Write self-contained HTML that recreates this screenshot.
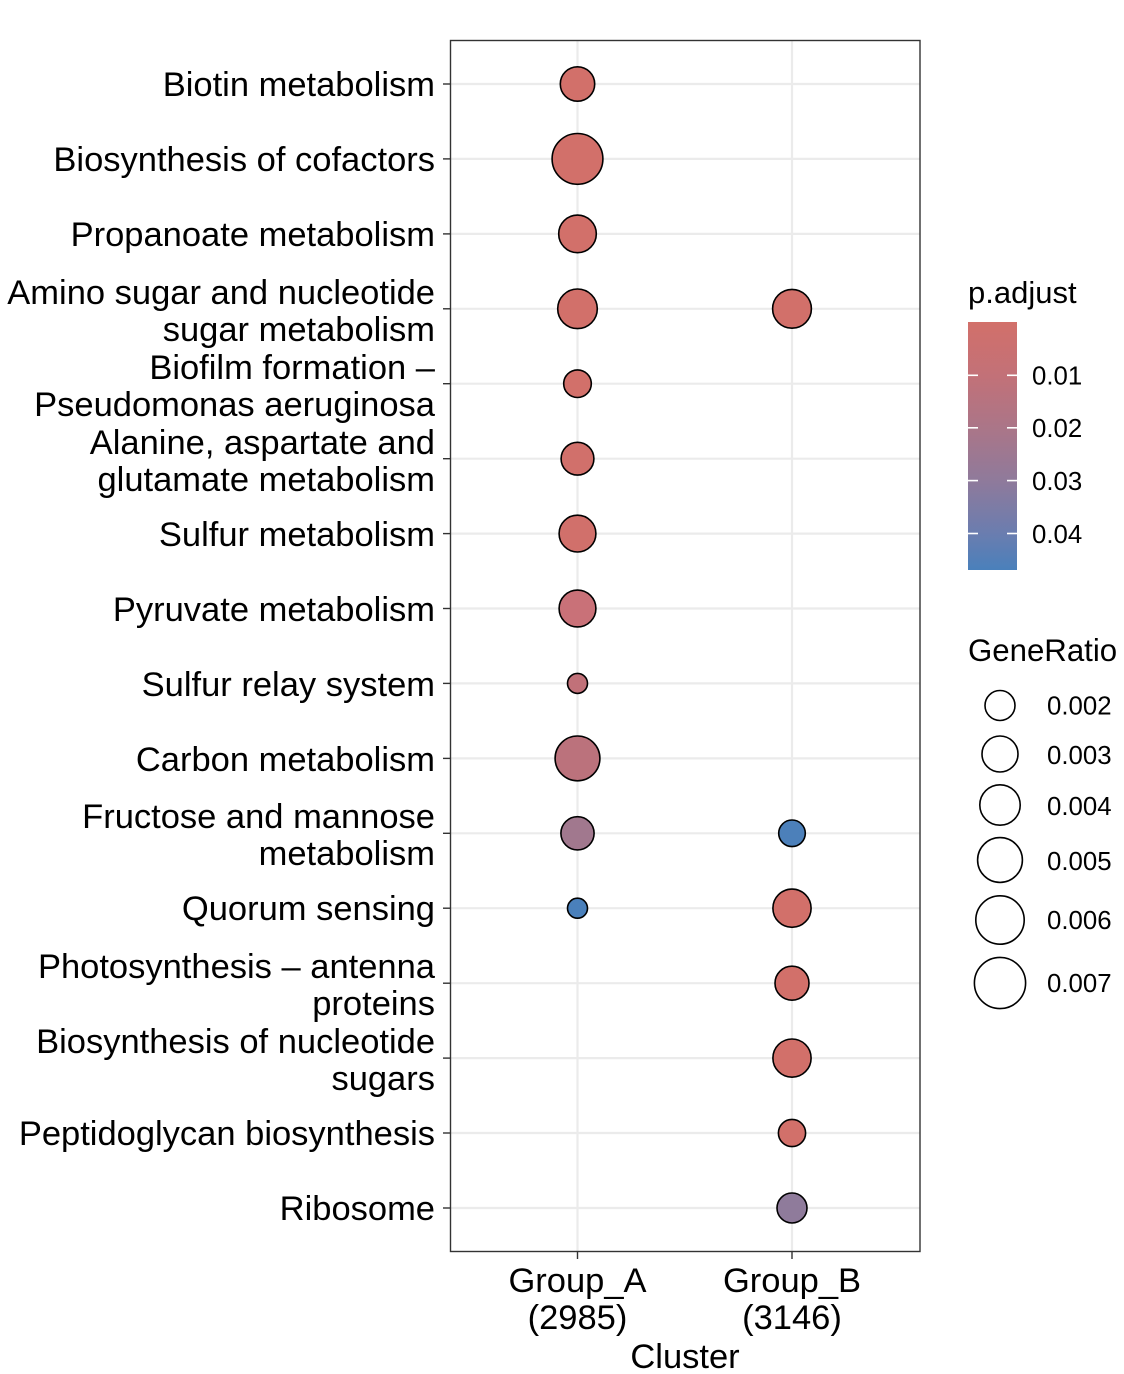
<!DOCTYPE html>
<html>
<head>
<meta charset="utf-8">
<style>
  html,body{margin:0;padding:0;background:#fff;}
  svg{display:block;}
  text{font-family:"Liberation Sans", Arial, Helvetica, sans-serif;fill:#000;}
</style>
</head>
<body>
<svg width="1124" height="1374" viewBox="0 0 1124 1374" xmlns="http://www.w3.org/2000/svg">
  <defs>
    <linearGradient id="cb" x1="0" y1="0" x2="0" y2="1">
      <stop offset="0" stop-color="#d2706a"/>
      <stop offset="0.22" stop-color="#c27178"/>
      <stop offset="0.45" stop-color="#a8768a"/>
      <stop offset="0.64" stop-color="#8f7a9b"/>
      <stop offset="0.85" stop-color="#6b7daf"/>
      <stop offset="1" stop-color="#4a80bb"/>
    </linearGradient>
  </defs>
  <rect x="0" y="0" width="1124" height="1374" fill="#fff"/>

  <!-- grid lines -->
  <g stroke="#ebebeb" stroke-width="2.2">
    <line x1="450" y1="84" x2="920" y2="84"/>
    <line x1="450" y1="158.9" x2="920" y2="158.9"/>
    <line x1="450" y1="233.9" x2="920" y2="233.9"/>
    <line x1="450" y1="308.8" x2="920" y2="308.8"/>
    <line x1="450" y1="383.7" x2="920" y2="383.7"/>
    <line x1="450" y1="458.7" x2="920" y2="458.7"/>
    <line x1="450" y1="533.6" x2="920" y2="533.6"/>
    <line x1="450" y1="608.5" x2="920" y2="608.5"/>
    <line x1="450" y1="683.4" x2="920" y2="683.4"/>
    <line x1="450" y1="758.4" x2="920" y2="758.4"/>
    <line x1="450" y1="833.3" x2="920" y2="833.3"/>
    <line x1="450" y1="908.2" x2="920" y2="908.2"/>
    <line x1="450" y1="983.2" x2="920" y2="983.2"/>
    <line x1="450" y1="1058.1" x2="920" y2="1058.1"/>
    <line x1="450" y1="1133" x2="920" y2="1133"/>
    <line x1="450" y1="1208" x2="920" y2="1208"/>
    <line x1="577.5" y1="40" x2="577.5" y2="1252"/>
    <line x1="792" y1="40" x2="792" y2="1252"/>
  </g>

  <!-- points -->
  <g stroke="#000" stroke-width="1.6">
    <circle cx="577.5" cy="84" r="17.2" fill="#d2706a"/>
    <circle cx="577.5" cy="158.9" r="25.4" fill="#d2706a"/>
    <circle cx="577.5" cy="233.9" r="18.8" fill="#d2706a"/>
    <circle cx="577.5" cy="308.8" r="19.8" fill="#d2706a"/>
    <circle cx="792" cy="308.8" r="19.4" fill="#d2706a"/>
    <circle cx="577.5" cy="383.7" r="13.8" fill="#d2706a"/>
    <circle cx="577.5" cy="458.7" r="16.4" fill="#d1706b"/>
    <circle cx="577.5" cy="533.6" r="18.4" fill="#d1706b"/>
    <circle cx="577.5" cy="608.5" r="18.4" fill="#c97178"/>
    <circle cx="577.5" cy="683.4" r="10" fill="#c17179"/>
    <circle cx="577.5" cy="758.4" r="22.4" fill="#bb727c"/>
    <circle cx="577.5" cy="833.3" r="16.6" fill="#a1788e"/>
    <circle cx="792" cy="833.3" r="13.3" fill="#4c80ba"/>
    <circle cx="577.5" cy="908.2" r="10" fill="#4a80bb"/>
    <circle cx="792" cy="908.2" r="19.1" fill="#d2706a"/>
    <circle cx="792" cy="983.2" r="17" fill="#d2706a"/>
    <circle cx="792" cy="1058.1" r="19.1" fill="#d2706a"/>
    <circle cx="792" cy="1133" r="13.6" fill="#d2706a"/>
    <circle cx="792" cy="1208" r="15" fill="#8f7b9b"/>
  </g>

  <!-- panel border -->
  <rect x="450.5" y="40.5" width="469.5" height="1211" fill="none" stroke="#333" stroke-width="1.4"/>

  <!-- ticks -->
  <g stroke="#333" stroke-width="1.4">
    <line x1="443" y1="84" x2="450" y2="84"/>
    <line x1="443" y1="158.9" x2="450" y2="158.9"/>
    <line x1="443" y1="233.9" x2="450" y2="233.9"/>
    <line x1="443" y1="308.8" x2="450" y2="308.8"/>
    <line x1="443" y1="383.7" x2="450" y2="383.7"/>
    <line x1="443" y1="458.7" x2="450" y2="458.7"/>
    <line x1="443" y1="533.6" x2="450" y2="533.6"/>
    <line x1="443" y1="608.5" x2="450" y2="608.5"/>
    <line x1="443" y1="683.4" x2="450" y2="683.4"/>
    <line x1="443" y1="758.4" x2="450" y2="758.4"/>
    <line x1="443" y1="833.3" x2="450" y2="833.3"/>
    <line x1="443" y1="908.2" x2="450" y2="908.2"/>
    <line x1="443" y1="983.2" x2="450" y2="983.2"/>
    <line x1="443" y1="1058.1" x2="450" y2="1058.1"/>
    <line x1="443" y1="1133" x2="450" y2="1133"/>
    <line x1="443" y1="1208" x2="450" y2="1208"/>
    <line x1="577.5" y1="1252" x2="577.5" y2="1259"/>
    <line x1="792" y1="1252" x2="792" y2="1259"/>
  </g>

  <!-- y labels -->
  <g font-size="34.5" text-anchor="end">
    <text x="435" y="96">Biotin metabolism</text>
    <text x="435" y="171">Biosynthesis of cofactors</text>
    <text x="435" y="246">Propanoate metabolism</text>
    <text x="435" y="304">Amino sugar and nucleotide</text>
    <text x="435" y="341">sugar metabolism</text>
    <text x="435" y="379">Biofilm formation –</text>
    <text x="435" y="416">Pseudomonas aeruginosa</text>
    <text x="435" y="454">Alanine, aspartate and</text>
    <text x="435" y="491">glutamate metabolism</text>
    <text x="435" y="546">Sulfur metabolism</text>
    <text x="435" y="621">Pyruvate metabolism</text>
    <text x="435" y="696">Sulfur relay system</text>
    <text x="435" y="771">Carbon metabolism</text>
    <text x="435" y="828">Fructose and mannose</text>
    <text x="435" y="865">metabolism</text>
    <text x="435" y="920">Quorum sensing</text>
    <text x="435" y="978">Photosynthesis – antenna</text>
    <text x="435" y="1015">proteins</text>
    <text x="435" y="1053">Biosynthesis of nucleotide</text>
    <text x="435" y="1090">sugars</text>
    <text x="435" y="1145">Peptidoglycan biosynthesis</text>
    <text x="435" y="1220">Ribosome</text>
  </g>

  <!-- x labels -->
  <g font-size="34.5" text-anchor="middle">
    <text x="577.5" y="1292">Group_A</text>
    <text x="577.5" y="1329">(2985)</text>
    <text x="792" y="1292">Group_B</text>
    <text x="792" y="1329">(3146)</text>
    <text x="685" y="1368">Cluster</text>
  </g>

  <!-- legend: p.adjust -->
  <text x="968" y="303" font-size="31">p.adjust</text>
  <rect x="968" y="322" width="49" height="248" fill="url(#cb)"/>
  <g stroke="#fff" stroke-width="1.6">
    <line x1="968" y1="375.3" x2="978" y2="375.3"/>
    <line x1="1007" y1="375.3" x2="1017" y2="375.3"/>
    <line x1="968" y1="427.8" x2="978" y2="427.8"/>
    <line x1="1007" y1="427.8" x2="1017" y2="427.8"/>
    <line x1="968" y1="480.6" x2="978" y2="480.6"/>
    <line x1="1007" y1="480.6" x2="1017" y2="480.6"/>
    <line x1="968" y1="533.5" x2="978" y2="533.5"/>
    <line x1="1007" y1="533.5" x2="1017" y2="533.5"/>
  </g>
  <g font-size="25.8">
    <text x="1032" y="384.5">0.01</text>
    <text x="1032" y="437">0.02</text>
    <text x="1032" y="490">0.03</text>
    <text x="1032" y="543">0.04</text>
  </g>

  <!-- legend: GeneRatio -->
  <text x="968" y="661" font-size="31.2">GeneRatio</text>
  <g fill="none" stroke="#000" stroke-width="1.6">
    <circle cx="1000" cy="705.5" r="15"/>
    <circle cx="1000" cy="754" r="18"/>
    <circle cx="1000" cy="805" r="20.2"/>
    <circle cx="1000" cy="860" r="22.4"/>
    <circle cx="1000" cy="920" r="24.2"/>
    <circle cx="1000" cy="983" r="25.6"/>
  </g>
  <g font-size="25.8">
    <text x="1047" y="714.5">0.002</text>
    <text x="1047" y="764">0.003</text>
    <text x="1047" y="815">0.004</text>
    <text x="1047" y="870">0.005</text>
    <text x="1047" y="929">0.006</text>
    <text x="1047" y="992">0.007</text>
  </g>
</svg>
</body>
</html>
